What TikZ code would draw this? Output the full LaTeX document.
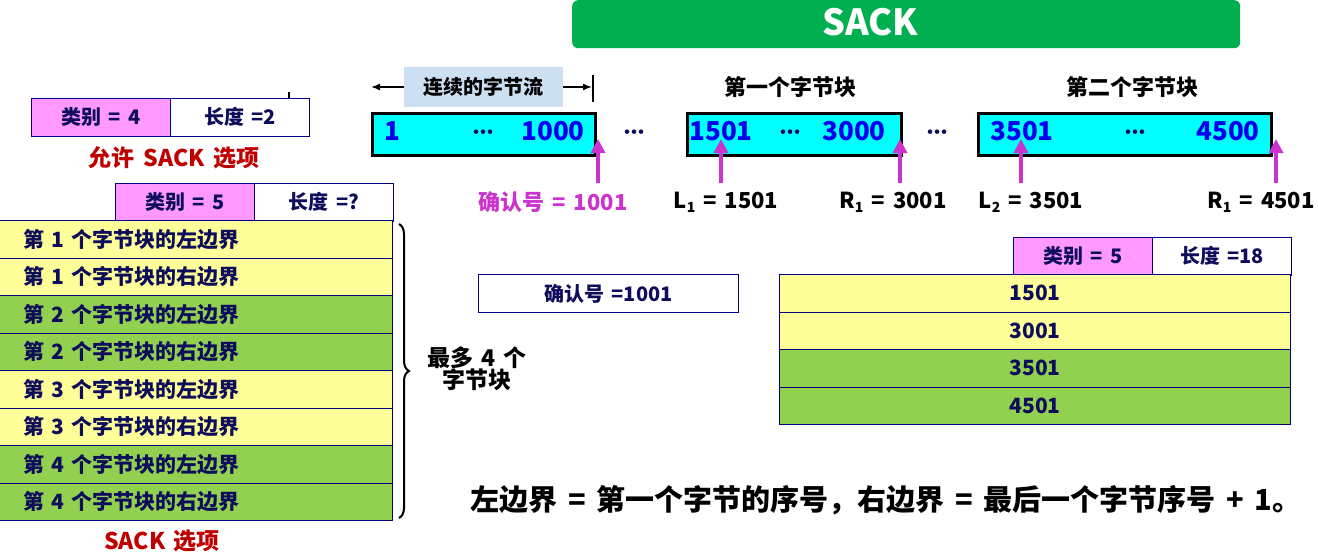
\documentclass[tikz,border=0pt]{standalone}
\usepackage{fontspec}
\setmainfont{Noto Sans CJK SC}[WordSpace=1.6]
\usetikzlibrary{arrows.meta,decorations.pathreplacing}

\definecolor{navy}{HTML}{000080}
\definecolor{ink}{HTML}{0D0D5C}
\definecolor{pinkf}{HTML}{FF99FF}
\definecolor{yel}{HTML}{FFFF99}
\definecolor{grn}{HTML}{92D050}
\definecolor{cyanf}{HTML}{00FFFF}
\definecolor{blu}{HTML}{0000EE}
\definecolor{mag}{HTML}{CC33CC}
\definecolor{redt}{HTML}{C00000}
\definecolor{titleg}{HTML}{00B050}
\definecolor{lblue}{HTML}{CCE0F2}

\newcommand\fsz[1]{\fontsize{#1}{#1}\selectfont\bfseries}
\newcommand\sub[1]{\raisebox{-4pt}{\fontsize{14}{14}\selectfont #1}}
% three bold dots standing on the mid line
\newcommand\tdots{\tikz[baseline=-3pt]{\foreach \i in {0,1,2}
  \fill (\i*7pt,0) circle (2.3pt);}}

\tikzset{
  cell/.style={draw=navy, line width=1pt, text=ink, inner sep=0pt,
    anchor=north west, minimum height=#1},
  cell/.default=37.5pt,
  hdr/.style={cell, minimum width=139pt, font=\fsz{20}},
  rowl/.style={cell, text width=345pt, inner xsep=24pt, align=left, font=\fsz{21}},
  rowr/.style={cell, minimum width=511pt, font=\fsz{21}},
  bytes/.style={draw=black, line width=3pt, fill=cyanf, anchor=north west,
    minimum height=42pt, inner sep=0pt},
  num/.style={text=blu, font=\fsz{26}},
  dots/.style={text=ink, inner sep=0pt},
  lbl/.style={font=\fsz{22}},
  ptr/.style={draw=mag, line width=4pt, -{Triangle[length=14pt,width=14pt]}},
  span/.style={line width=1.5pt, -{Latex[length=9pt,width=7pt]}},
}

\begin{document}
\begin{tikzpicture}[x=1pt, y=-1pt]
\useasboundingbox (0,0) rectangle (1318,557);

% title bar
\node[fill=titleg, rounded corners=6pt, minimum width=668pt, minimum height=48pt,
  anchor=north west, inner sep=0pt] (title) at (572,0) {};
\node[text=white, font=\fsz{36}] (titletext) at (870,22) {SACK};

% option: SACK permitted
\node[hdr, fill=pinkf] (k4) at (31,98) {类别 = 4};
\node[hdr, fill=white] (l2) at (170,98) {长度 =2};
\draw[line width=1.5pt] (289,92) -- (289,98);
\node[text=redt, font=\fsz{23}] (perm) at (174,158) {允许 SACK 选项};

% SACK option block
\node[hdr, fill=pinkf] (k5) at (115,183) {类别 = 5};
\node[hdr, fill=white] (lq) at (254,183) {长度 =?};
\node[rowl, fill=yel] (r1) at (-1,220)   {第 1 个字节块的左边界};
\node[rowl, fill=yel] (r2) at (-1,257.5) {第 1 个字节块的右边界};
\node[rowl, fill=grn] (r3) at (-1,295)   {第 2 个字节块的左边界};
\node[rowl, fill=grn] (r4) at (-1,332.5) {第 2 个字节块的右边界};
\node[rowl, fill=yel] (r5) at (-1,370)   {第 3 个字节块的左边界};
\node[rowl, fill=yel] (r6) at (-1,407.5) {第 3 个字节块的右边界};
\node[rowl, fill=grn] (r7) at (-1,445)   {第 4 个字节块的左边界};
\node[rowl, fill=grn] (r8) at (-1,482.5) {第 4 个字节块的右边界};
\node[text=redt, font=\fsz{23}] (sackopt) at (162,541) {SACK 选项};

\draw[decorate, decoration={brace, amplitude=10pt}, line width=2pt]
  ([xshift=6pt,yshift=-4pt]r1.north east) -- ([xshift=6pt,yshift=3pt]r8.south east);
\node[align=center, font=\fsz{23}, inner sep=0pt] (most) at (477,369)
  {最多 4 个\\[-1pt]字节块};

% byte stream
\node[fill=lblue, minimum width=159pt, minimum height=40pt, inner sep=0pt,
  font=\fsz{20}] (stream) at (483.5,87) {连续的字节流};
\coordinate (sl) at (371,87);
\coordinate (sr) at (592,87);
\draw[span] (stream.west) -- (sl);
\draw[span] (stream.east) -- (sr);
\draw[line width=1.5pt] (593,75) -- (593,102);

\node[bytes, minimum width=223pt] (b1) at (371,112) {};
\node[num] (b1a) at (392,131) {1};
\node[dots] (b1d) at (483,132) {\tdots};
\node[num] (b1b) at (553,131) {1000};
\node[dots] (g1) at (634,132) {\tdots};

\node[lbl] (blk1) at (790,87) {第一个字节块};
\node[bytes, minimum width=214pt] (b2) at (686,112) {};
\node[num] (b2a) at (721,131) {1501};
\node[dots] (b2d) at (790,132) {\tdots};
\node[num] (b2b) at (854,131) {3000};
\node[dots] (g2) at (937,132) {\tdots};

\node[lbl] (blk2) at (1132,87) {第二个字节块};
\node[bytes, minimum width=293pt] (b3) at (977,112) {};
\node[num] (b3a) at (1022,131) {3501};
\node[dots] (b3d) at (1135,132) {\tdots};
\node[num] (b3b) at (1228,131) {4500};

% pointers
\node[text=mag, lbl] (ack) at (553,202) {确认号 = 1001};
\node[lbl] (L1) at (726,202) {L\sub{1} = 1501};
\node[lbl] (R1) at (893,202) {R\sub{1} = 3001};
\node[lbl] (L2) at (1031,202) {L\sub{2} = 3501};
\node[lbl] (R2) at (1261,202) {R\sub{1} = 4501};
\coordinate (pa) at (598,183);  \coordinate (ta) at (598,139);
\coordinate (pb) at (721,183);  \coordinate (tb) at (721,139);
\coordinate (pc) at (900,183);  \coordinate (tc) at (900,139);
\coordinate (pd) at (1021,183); \coordinate (td) at (1021,139);
\coordinate (pe) at (1276,183); \coordinate (te) at (1276,139);
\draw[ptr] (pa) -- (ta);
\draw[ptr] (pb) -- (tb);
\draw[ptr] (pc) -- (tc);
\draw[ptr] (pd) -- (td);
\draw[ptr] (pe) -- (te);

% example option
\node[cell=38pt, minimum width=260pt, fill=white, font=\fsz{20}] (acknum) at (478,274) {确认号 =1001};
\node[hdr, fill=pinkf] (k5b) at (1013,237) {类别 = 5};
\node[hdr, fill=white] (l18) at (1152,237) {长度 =18};
\node[rowr, fill=yel] (e1) at (779,274)   {1501};
\node[rowr, fill=yel] (e2) at (779,311.5) {3001};
\node[rowr, fill=grn] (e3) at (779,349)   {3501};
\node[rowr, fill=grn] (e4) at (779,386.5) {4501};

% note
\node[font=\fsz{29}] (note) at (886,500)
  {左边界 = 第一个字节的序号，右边界 = 最后一个字节序号 + 1。};
\end{tikzpicture}
\end{document}
